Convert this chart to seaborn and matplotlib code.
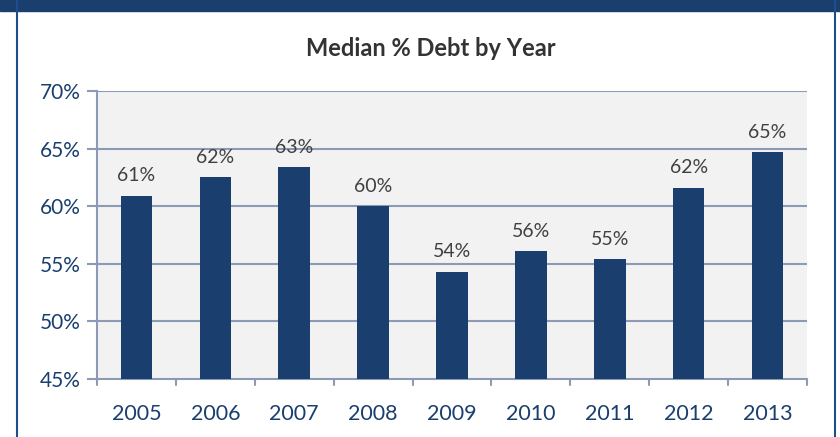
import matplotlib
matplotlib.use("Agg")
import matplotlib.pyplot as plt
import seaborn as sns
import pandas as pd
from matplotlib.patches import Rectangle
from matplotlib.lines import Line2D

years = ["2005", "2006", "2007", "2008", "2009", "2010", "2011", "2012", "2013"]
values = [60.9, 62.5, 63.4, 60.0, 54.3, 56.1, 55.4, 61.6, 64.7]
labels = ["61%", "62%", "63%", "60%", "54%", "56%", "55%", "62%", "65%"]
yticks = [45, 50, 55, 60, 65, 70]
ytick_labels = ["45%", "50%", "55%", "60%", "65%", "70%"]

sns.set_theme(style="white")
plt.rcParams['font.family'] = ['Lato', 'DejaVu Sans']

navy = "#1A3F6F"
grid_c = "#8C9AB5"
df = pd.DataFrame({"year": years, "value": values})

fig = plt.figure(figsize=(8.4, 4.37), dpi=100)
ax = fig.add_axes([97/840, (437-379)/437, (807-97)/840, (379-91)/437])
ax.set_facecolor("#F2F2F2")

sns.barplot(data=df, x="year", y="value", color=navy, width=0.4, ax=ax, zorder=3,
            saturation=1)
for p in ax.patches:
    p.set_edgecolor("none")

ax.set_ylim(45, 70)
ax.set_xlim(-0.5, len(years) - 0.5)
ax.set_yticks(yticks)
ax.set_yticklabels(ytick_labels, color=navy, fontsize=15)
ax.set_xticks(range(len(years)))
ax.set_xticklabels(years, color=navy, fontsize=15.5)
ax.set_xlabel("")
ax.set_ylabel("")
for y in yticks[1:]:
    ax.axhline(y, color=grid_c, lw=1.5, zorder=1)

for s in ["top", "right"]:
    ax.spines[s].set_visible(False)
ax.spines["left"].set_color(grid_c)
ax.spines["left"].set_linewidth(1.5)
ax.spines["bottom"].set_color(grid_c)
ax.spines["bottom"].set_linewidth(1.5)
ax.tick_params(axis="y", length=7, width=1.5, color=grid_c, direction="out", pad=5, left=True)
ax.tick_params(axis="x", length=0, pad=18)
# category boundary ticks
for b in [i - 0.5 for i in range(len(years) + 1)]:
    ax.plot([b, b], [0, -0.022], transform=ax.get_xaxis_transform(), color=grid_c,
            lw=1.5, clip_on=False)

for i, (v, t) in enumerate(zip(values, labels)):
    ax.text(i, v + 1.0, t, ha="center", va="bottom", fontsize=14, color="#404040")

fig.text(431/840, 1 - 48/437, "Median % Debt by Year", ha="center", va="center",
         fontsize=17, fontweight="bold", color="#333333")

# frame
fig.patches.append(Rectangle((0, 1 - 11/437), 1, 11/437, transform=fig.transFigure,
                             color=navy, zorder=0))
fig.lines.append(Line2D([17/840, 17/840], [0, 1], transform=fig.transFigure, color="#1F4E8C", lw=1.5))
fig.lines.append(Line2D([835/840, 835/840], [0, 1], transform=fig.transFigure, color="#1F4E8C", lw=1.5))

fig.savefig("out.png", dpi=100)
